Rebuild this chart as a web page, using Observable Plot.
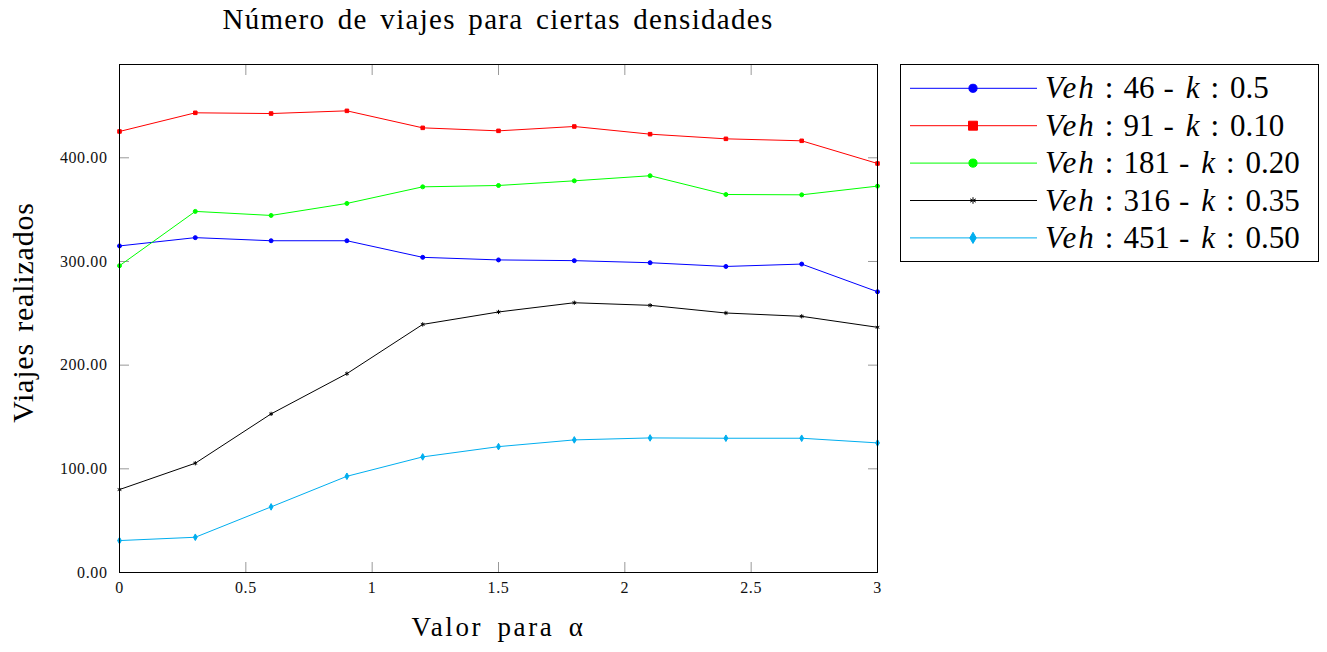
<!DOCTYPE html>
<html><head><meta charset="utf-8">
<script src="https://cdn.jsdelivr.net/npm/d3@7"></script>
<script src="https://cdn.jsdelivr.net/npm/@observablehq/plot@0.6"></script>
<style>
body{margin:0;background:#fff;font-family:"Liberation Serif",serif;}
#wrap{position:relative;width:1327px;height:652px;overflow:hidden;font-family:"Liberation Serif",serif;}
#title{height:48px;width:996px;text-align:center;font-family:"Liberation Serif",serif;font-size:29px;line-height:38px;letter-spacing:1.3px;word-spacing:4px;color:#000;}
#legend{position:absolute;left:900px;top:64px;}
#chart g[aria-label="y-axis tick label"] text,#chart g[aria-label="x-axis tick label"] text{letter-spacing:0.6px;}
</style></head><body>
<div id="wrap"><div id="title">Número de viajes para ciertas densidades</div><div id="chart"></div><div id="legend"></div></div>
<script>
const alpha = [0, 0.3, 0.6, 0.9, 1.2, 1.5, 1.8, 2.1, 2.4, 2.7, 3.0];
const seriesNames = ["Veh:46 k:0.5", "Veh:91 k:0.10", "Veh:181 k:0.20", "Veh:316 k:0.35", "Veh:451 k:0.50"];
const legendVeh = ["46", "91", "181", "316", "451"];
const legendK = ["0.5", "0.10", "0.20", "0.35", "0.50"];
const seriesColors = ["#0000ff", "#ff0000", "#00ff00", "#000000", "#00aeef"];
const seriesSymbols = ["circle", "square", "circle", "asterisk", "diamond"];
const veh46 = [315, 323, 320, 320, 304, 301.5, 300.8, 298.8, 295.2, 297.5, 270.8];
const veh91 = [425.4, 443.4, 442.7, 445.3, 428.9, 426, 430.2, 422.8, 418.3, 416.4, 394.5];
const veh181 = [295.9, 348.3, 344.4, 356, 372, 373.3, 377.8, 382.7, 364.6, 364.3, 372.7];
const veh316 = [80, 105.4, 153, 191.8, 239.3, 251.3, 260.2, 257.7, 250.3, 247.1, 236.5];
const veh451 = [30.8, 34, 63.3, 92.8, 111.5, 121.4, 127.9, 129.8, 129.5, 129.5, 125];
const xTicks = [0, 0.5, 1, 1.5, 2, 2.5, 3];
const yTicks = [0, 100, 200, 300, 400];
const xLabel = "Valor para α";
const yLabel = "Viajes realizados";

const allSeries = [veh46, veh91, veh181, veh316, veh451];
const data = [];
allSeries.forEach((vals, s) => vals.forEach((v, i) => data.push({series: seriesNames[s], alpha: alpha[i], value: v})));

const FONT = "Liberation Serif, serif";
const tickStroke = "#999";
const chart = Plot.plot({
  width: 1327, height: 604,
  marginLeft: 119, marginRight: 450, marginTop: 16, marginBottom: 80,
  style: {fontFamily: FONT, background: "#fff"},
  x: {domain: [0, 3]},
  y: {domain: [0, 490]},
  color: {domain: seriesNames, range: seriesColors},
  symbol: {domain: seriesNames, range: seriesSymbols},
  marks: [
    Plot.axisX(xTicks, {anchor: "bottom", tickSize: -10, stroke: tickStroke, tickFormat: () => "", label: null}),
    Plot.axisX(xTicks, {anchor: "top", tickSize: -10, stroke: tickStroke, tickFormat: () => "", label: null}),
    Plot.axisY(yTicks, {anchor: "left", tickSize: -10, stroke: tickStroke, tickFormat: () => "", label: null}),
    Plot.axisY(yTicks, {anchor: "right", tickSize: -10, stroke: tickStroke, tickFormat: () => "", label: null}),
    Plot.axisX(xTicks, {anchor: "bottom", tickSize: 0, tickPadding: 9, fontSize: 16, fill: "#111", tickFormat: d => String(d), label: null}),
    Plot.axisY(yTicks, {anchor: "left", tickSize: 0, tickPadding: 12, fontSize: 16, fill: "#111", tickFormat: d => d.toFixed(2), label: null}),
    Plot.line(data, {x: "alpha", y: "value", z: "series", stroke: "series", strokeWidth: 1}),
    Plot.dot(data, {x: "alpha", y: "value", fill: "series", stroke: "series", symbol: "series", r: 2, strokeWidth: 1}),
    Plot.frame({stroke: "#000", strokeWidth: 1}),
    Plot.text([xLabel], {frameAnchor: "bottom", dy: 63, fontSize: 27, fill: "#000"}),
    Plot.text([yLabel], {frameAnchor: "left", textAnchor: "middle", dx: -96, dy: -6, rotate: -90, fontSize: 30, fill: "#000"})
  ]
});
d3.select(chart).selectAll("text").filter(function() { return this.textContent === xLabel; })
  .style("letter-spacing", "2.6px").style("word-spacing", "5px");
d3.select(chart).selectAll("text").filter(function() { return this.textContent === yLabel; })
  .style("letter-spacing", "0.8px").style("word-spacing", "3px");
document.getElementById("chart").appendChild(chart);

// legend (HTML-side svg)
const lg = d3.create("svg").attr("width", 420).attr("height", 199)
  .style("font-family", FONT).style("display", "block");
lg.append("rect").attr("x", 0.5).attr("y", 0.5).attr("width", 418).attr("height", 197)
  .attr("fill", "#fff").attr("stroke", "#000").attr("stroke-width", 1);
seriesNames.forEach((name, i) => {
  const cy = 24.3 + i * 37.4;
  lg.append("line").attr("x1", 10).attr("x2", 137).attr("y1", cy).attr("y2", cy)
    .attr("stroke", seriesColors[i]).attr("stroke-width", 1);
  const sym = {circle: d3.symbolCircle, square: d3.symbolSquare, asterisk: d3.symbolAsterisk, diamond: d3.symbolDiamond}[seriesSymbols[i]];
  const size = {circle: 52, square: 80, asterisk: 30, diamond: 36}[seriesSymbols[i]];
  lg.append("path").attr("d", d3.symbol(sym, size)()).attr("transform", `translate(73,${cy})`)
    .attr("fill", seriesColors[i]).attr("stroke", seriesColors[i]).attr("stroke-width", 1);
  const t = lg.append("text").attr("x", 145).attr("y", cy + 10).attr("font-size", 31).attr("fill", "#000");
  t.append("tspan").attr("font-style", "italic").style("letter-spacing", "2px").text("Veh");
  t.append("tspan").attr("dx", 9).text(":");
  t.append("tspan").attr("dx", 10).text(legendVeh[i]);
  t.append("tspan").attr("dx", 9).text("-");
  t.append("tspan").attr("dx", 12).attr("font-style", "italic").text("k");
  t.append("tspan").attr("dx", 11).text(":");
  t.append("tspan").attr("dx", 11).text(legendK[i]);
});
document.getElementById("legend").appendChild(lg.node());
</script>
</body></html>
